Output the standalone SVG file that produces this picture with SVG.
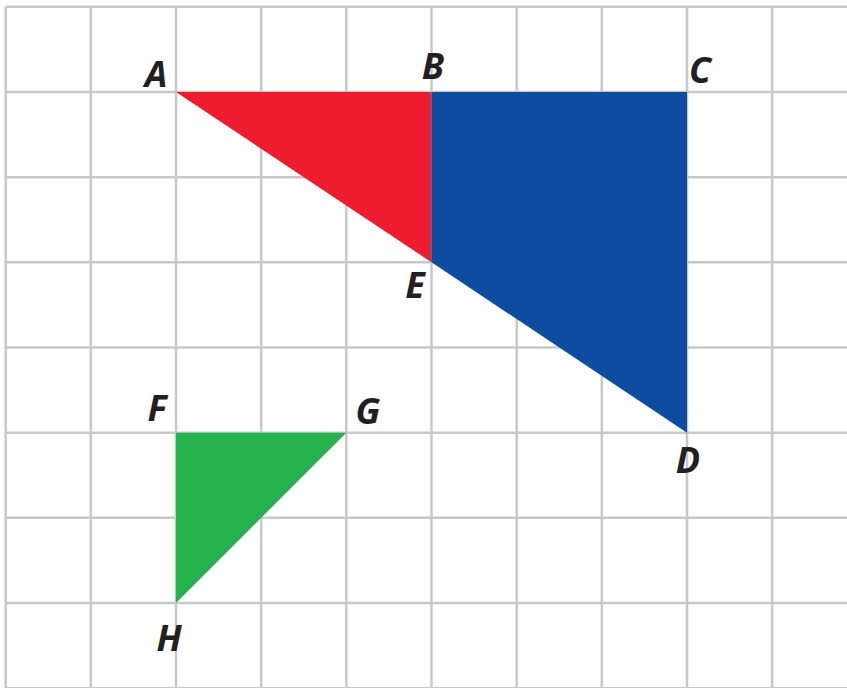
<svg xmlns="http://www.w3.org/2000/svg" width="847" height="688" viewBox="0 0 847 688">
<style>
.grid line{stroke:#c8c8ca;stroke-width:2.5}
.lbl{font-family:"Noto Sans","Open Sans","DejaVu Sans",sans-serif;font-weight:bold;font-style:italic;font-size:36px;fill:#231f20;text-anchor:middle}
</style>
<rect width="847" height="688" fill="#ffffff"/>
<g class="grid" id="grid">
<line x1="5.7" y1="6.8" x2="5.7" y2="688"/>
<line x1="90.8" y1="6.8" x2="90.8" y2="688"/>
<line x1="176" y1="6.8" x2="176" y2="688"/>
<line x1="261.2" y1="6.8" x2="261.2" y2="688"/>
<line x1="346.3" y1="6.8" x2="346.3" y2="688"/>
<line x1="431.5" y1="6.8" x2="431.5" y2="688"/>
<line x1="516.7" y1="6.8" x2="516.7" y2="688"/>
<line x1="601.8" y1="6.8" x2="601.8" y2="688"/>
<line x1="687" y1="6.8" x2="687" y2="688"/>
<line x1="772.2" y1="6.8" x2="772.2" y2="688"/>
<line x1="5.7" y1="6.8" x2="847" y2="6.8"/>
<line x1="5.7" y1="92" x2="847" y2="92"/>
<line x1="5.7" y1="177.2" x2="847" y2="177.2"/>
<line x1="5.7" y1="262.3" x2="847" y2="262.3"/>
<line x1="5.7" y1="347.5" x2="847" y2="347.5"/>
<line x1="5.7" y1="432.7" x2="847" y2="432.7"/>
<line x1="5.7" y1="517.8" x2="847" y2="517.8"/>
<line x1="5.7" y1="603" x2="847" y2="603"/>
<line x1="5.7" y1="688.2" x2="847" y2="688.2"/>
</g>
<g id="triangle-ABE"><polygon points="176,92 431.5,92 431.5,262.3" fill="#ed1c2e"/></g>
<g id="quad-BCDE"><polygon points="431.5,92 687,92 687,432.7 431.5,262.3" fill="#0d4c9e"/></g>
<g id="triangle-FGH"><polygon points="176,432.7 346.3,432.7 176,603" fill="#25b14b"/></g>
<g id="labels">
<text class="lbl" x="156" y="87">A</text>
<text class="lbl" x="433" y="79">B</text>
<text class="lbl" x="700" y="83">C</text>
<text class="lbl" x="415" y="298">E</text>
<text class="lbl" x="688" y="473">D</text>
<text class="lbl" x="157" y="421">F</text>
<text class="lbl" x="368" y="424">G</text>
<text class="lbl" x="169" y="651">H</text>
</g>
</svg>
